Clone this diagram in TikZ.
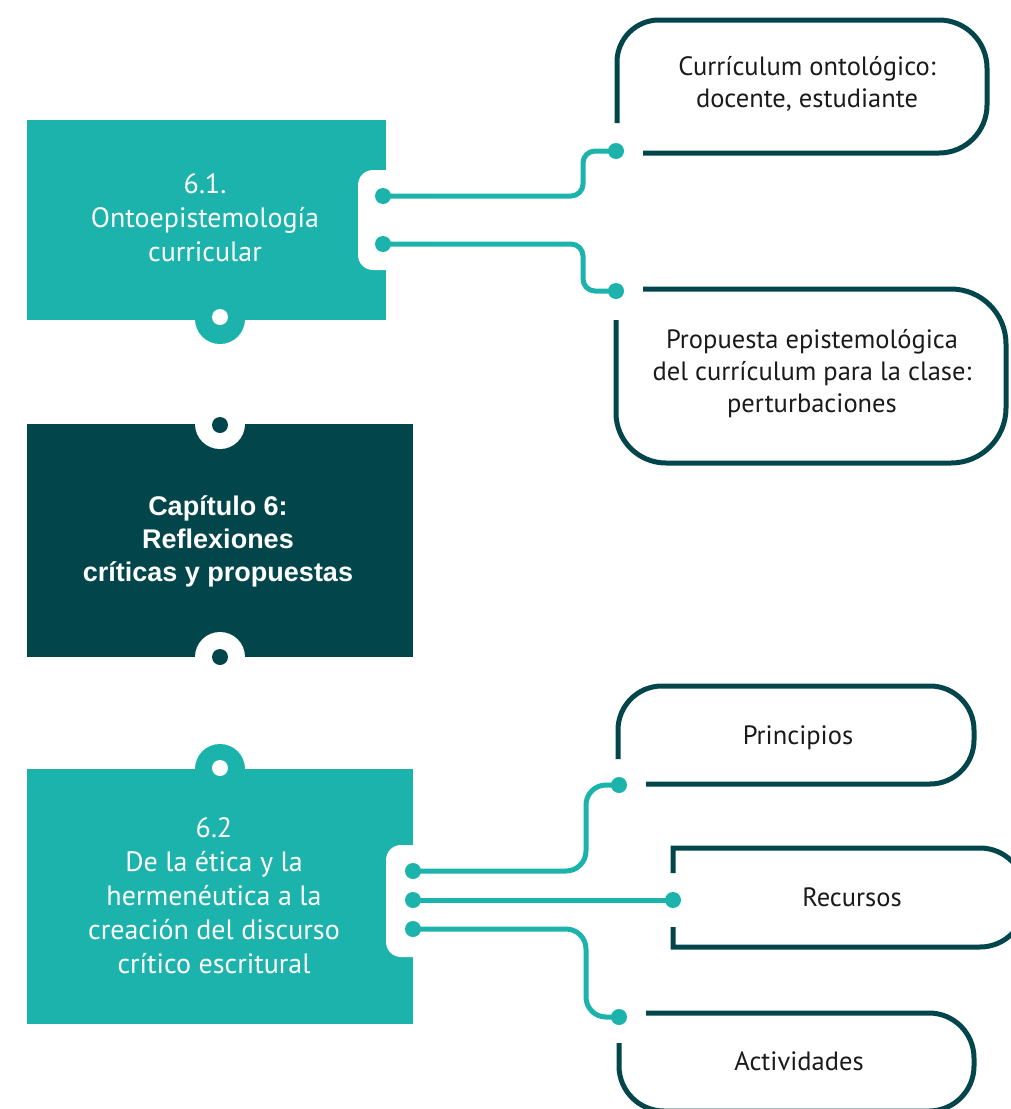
\documentclass[tikz,border=0pt]{standalone}
\usepackage{fontspec}
\setmainfont{PT Sans}
\newfontfamily\chapfont{Liberation Sans}
\usetikzlibrary{positioning}

\definecolor{tealc}{RGB}{27,179,172}
\definecolor{darkc}{RGB}{2,70,76}
\definecolor{inkc}{RGB}{26,26,26}

\tikzset{
  outline/.style={draw=darkc, line width=5pt},
  link/.style={draw=tealc, line width=5pt},
  tdot/.style={circle, fill=tealc, inner sep=0pt, minimum size=16pt},
  sectext/.style={text=white, align=center, font=\fontsize{28}{34}\selectfont},
  chaptext/.style={text=white, align=center, font=\chapfont\bfseries\fontsize{27}{33}\selectfont},
  leaftext/.style={text=inkc, align=center, font=\fontsize{26.5}{32}\selectfont},
}

\begin{document}
\begin{tikzpicture}[x=1pt,y=-1pt]
\useasboundingbox (0,0) rectangle (1011,1109);
\clip (0,0) rectangle (1011,1109);

% section 6.1
\fill[tealc] (27,120) rectangle (386,320);
\fill[white, rounded corners=15pt] (358,170) rectangle (420,270);
\fill[tealc] (220,319) circle (25pt);
\fill[white] (220,317) circle (8pt);
\node[sectext] (sec61) at (205,218) {6.1.\\Ontoepistemología\\curricular};

% chapter box
\fill[darkc] (27,424) rectangle (413,657);
\fill[white] (220,424) circle (25pt);
\fill[white] (220,657) circle (25pt);
\fill[darkc] (220,425) circle (8pt);
\fill[darkc] (220,657) circle (8pt);
\node[chaptext] (chap) at (218,541) {Capítulo 6:\\Reflexiones\\críticas y propuestas};

% section 6.2
\fill[tealc] (27,769) rectangle (413,1024);
\fill[white, rounded corners=15pt] (386,845) rectangle (440,957);
\fill[tealc] (220,769) circle (25pt);
\fill[white] (220,768) circle (8pt);
\node[sectext] (sec62) at (214,896) {6.2\\De la ética y la\\hermenéutica a la\\creación del discurso\\crítico escritural};

% outlined boxes
\draw[outline] (643,153) [rounded corners=48pt] -- (987,153) -- (987,20)
  [rounded corners=42pt] -- (617,20) [sharp corners] -- (617,123);
\node[leaftext] (curr) at (807,84) {Currículum ontológico:\\docente, estudiante};

\draw[outline] (643,289) [rounded corners=55pt] -- (1006,289) -- (1006,463)
  [rounded corners=50pt] -- (616,463) [sharp corners] -- (616,320);
\node[leaftext] (prop) at (812,374) {Propuesta epistemológica\\del currículum para la clase:\\perturbaciones};

\draw[outline] (646,784) [rounded corners=44pt] -- (974,784) -- (974,686)
  -- (618,686) [sharp corners] -- (618,759);
\node[leaftext] (prin) at (798,738) {Principios};

\draw[outline] (673,873) -- (673,848) [rounded corners=45pt] -- (1025,848) -- (1025,947)
  [sharp corners] -- (673,947) -- (673,927);
\node[leaftext] (recu) at (852,897) {Recursos};

\draw[outline] (646,1013) [rounded corners=45pt] -- (974,1013) -- (974,1111)
  -- (619,1111) [sharp corners] -- (619,1043);
\node[leaftext] (acti) at (799,1061) {Actividades};

% dots
\node[tdot] (a1) at (383,196) {};
\node[tdot] (a2) at (383,244) {};
\node[tdot] (b1) at (616,151) {};
\node[tdot] (b2) at (616,291) {};
\node[tdot] (c1) at (413,871) {};
\node[tdot] (c2) at (413,900) {};
\node[tdot] (c3) at (413,929) {};
\node[tdot] (d1) at (619,785) {};
\node[tdot] (d2) at (673,900) {};
\node[tdot] (d3) at (619,1017) {};

% connectors
\draw[link, rounded corners=12pt] (a1.center) -| ([xshift=-33pt]b1.center) -- (b1.center);
\draw[link, rounded corners=12pt] (a2.center) -| ([xshift=-33pt]b2.center) -- (b2.center);
\draw[link, rounded corners=20pt] (c1.center) -| ([xshift=-33pt]d1.center) -- (d1.center);
\draw[link] (c2.center) -- (d2.center);
\draw[link, rounded corners=20pt] (c3.center) -| ([xshift=-33pt]d3.center) -- (d3.center);
\end{tikzpicture}
\end{document}
